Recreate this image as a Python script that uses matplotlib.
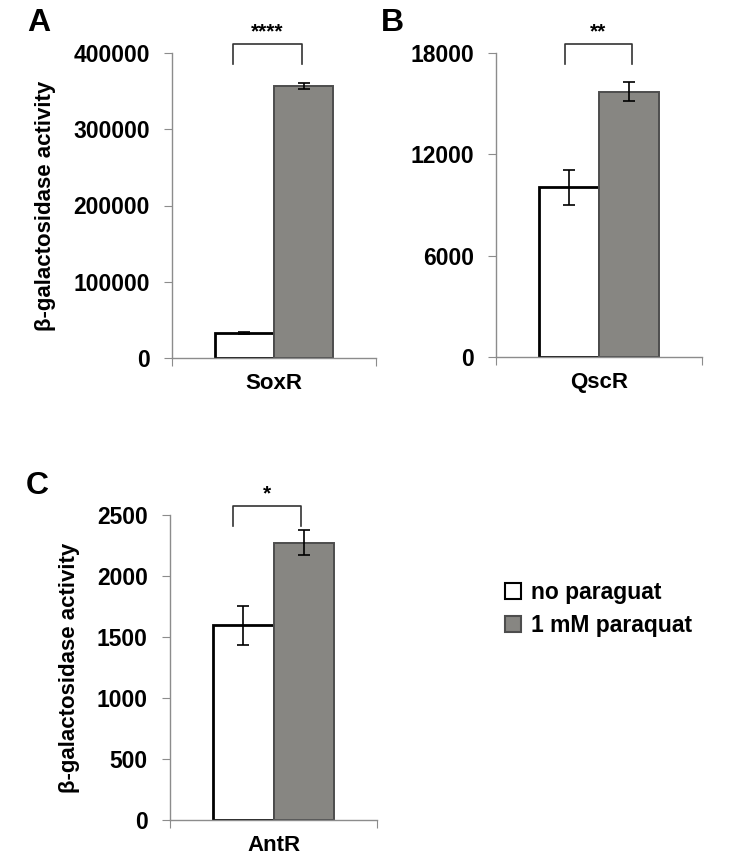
import matplotlib
matplotlib.use("Agg")
import matplotlib.pyplot as plt
from matplotlib.patches import Patch

plt.rcParams['font.family'] = ['Liberation Sans', 'DejaVu Sans']
plt.rcParams['font.weight'] = 'bold'

# data
conditions = ['no paraguat', '1 mM paraquat']
genes = ['SoxR', 'QscR', 'AntR']
means = {
    'SoxR': [32800, 356700],
    'QscR': [10050, 15720],
    'AntR': [1598, 2273],
}
errors = {
    'SoxR': [1500, 3500],
    'QscR': [1050, 560],
    'AntR': [160, 100],
}
significance = {'SoxR': '****', 'QscR': '**', 'AntR': '*'}
y_ticks = {
    'SoxR': [0, 100000, 200000, 300000, 400000],
    'QscR': [0, 6000, 12000, 18000],
    'AntR': [0, 500, 1000, 1500, 2000, 2500],
}
panel_letters = {'SoxR': 'A', 'QscR': 'B', 'AntR': 'C'}

bar_colors = ['white', '#878682']
edge_colors = ['black', '#4d4d4d']
edge_widths = [2.0, 1.4]
spine_color = '#8c8c8c'

fig = plt.figure(figsize=(7.5, 8.67), dpi=100)

# axes rectangles in figure fraction
rects = {
    'SoxR': [172 / 750, 1 - 358 / 867, 204 / 750, 305 / 867],
    'QscR': [496 / 750, 1 - 357 / 867, 206 / 750, 304 / 867],
    'AntR': [170 / 750, 1 - 820 / 867, 207 / 750, 305 / 867],
}
# bracket x extents (data coords)
brackets = {
    'SoxR': (-0.20, 0.135),
    'QscR': (-0.165, 0.16),
    'AntR': (-0.196, 0.133),
}
letter_pos = {'SoxR': (27, 31), 'QscR': (381, 31), 'AntR': (26, 494)}

bar_w = 0.29
xpos = [-bar_w / 2, bar_w / 2]

for gene in genes:
    ax = fig.add_axes(rects[gene])
    ymax = y_ticks[gene][-1]
    for i in range(2):
        ax.bar(xpos[i], means[gene][i], width=bar_w, color=bar_colors[i],
               edgecolor=edge_colors[i], linewidth=edge_widths[i], zorder=2)
        ax.errorbar(xpos[i], means[gene][i], yerr=errors[gene][i], fmt='none',
                    ecolor='black', elinewidth=1.2, capsize=4, capthick=1.2, zorder=3)
    ax.set_xlim(-0.5, 0.5)
    ax.set_ylim(0, ymax)
    ax.set_yticks(y_ticks[gene])
    ax.set_yticklabels([str(t) for t in y_ticks[gene]], fontsize=16.5, fontweight='bold')
    ax.set_xticks([-0.5, 0.5])
    ax.set_xticklabels(['', ''])
    ax.set_xticks([0], minor=True)
    ax.set_xticklabels([gene], minor=True, fontsize=16, fontweight='bold')
    ax.tick_params(axis='x', which='minor', length=0, pad=11)
    ax.tick_params(axis='x', which='major', length=6, color=spine_color, direction='out')
    ax.tick_params(axis='y', length=6, color=spine_color, direction='out', pad=10)
    for side in ['top', 'right']:
        ax.spines[side].set_visible(False)
    for side in ['left', 'bottom']:
        ax.spines[side].set_color(spine_color)
        ax.spines[side].set_linewidth(1.0)

    # significance bracket
    x0, x1 = brackets[gene]
    top = ymax * 1.03
    leg = ymax * 0.965
    ax.plot([x0, x0, x1, x1], [leg, top, top, leg], color='#333333', lw=1.2,
            clip_on=False)
    ax.text((x0 + x1) / 2, ymax * 1.07, significance[gene], ha='center', va='center',
            fontsize=15, fontweight='bold', clip_on=False)

    if gene != 'QscR':
        ax.set_ylabel('β-galactosidase activity', fontsize=16, fontweight='bold', labelpad=12)

    # panel letter
    lx, ly = letter_pos[gene]
    fig.text(lx / 750, 1 - ly / 867, panel_letters[gene], fontsize=23, fontweight='bold',
             ha='left', va='baseline')

handles = [Patch(facecolor=bar_colors[i], edgecolor=edge_colors[i], linewidth=1.5)
           for i in range(2)]
fig.legend(handles, conditions, loc='upper left', bbox_to_anchor=(484 / 750, 1 - 560 / 867),
           frameon=False, handlelength=0.7, handleheight=0.7,
           handletextpad=0.45, labelspacing=0.45, prop={'weight': 'bold', 'size': 16.5})

fig.savefig('out.png', dpi=100)
